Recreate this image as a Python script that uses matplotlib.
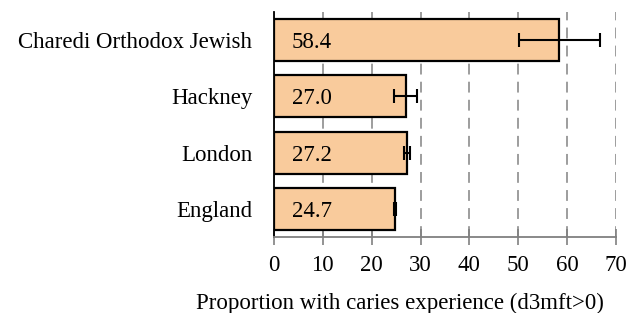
import matplotlib.pyplot as plt
import numpy as np

plt.rcParams['font.family'] = ['Liberation Serif', 'DejaVu Serif']

groups = ['Charedi Orthodox Jewish', 'Hackney', 'London', 'England']
values = [58.4, 27.0, 27.2, 24.7]
ci_low = [50.1, 24.6, 26.6, 24.5]
ci_high = [66.7, 29.3, 27.8, 25.0]

pos = np.arange(len(groups))[::-1]
vals = np.array(values)
err = [vals - np.array(ci_low), np.array(ci_high) - vals]

fig = plt.figure(figsize=(6.38, 3.13), dpi=100)
ax = fig.add_axes([274 / 638, 1 - 237 / 313, 342 / 638, 225 / 313])

ax.barh(pos, vals, height=0.75, color='#F9CB9C', edgecolor='black', linewidth=1.6, zorder=2)
ax.errorbar(vals, pos, xerr=err, fmt='none', ecolor='black', elinewidth=1.5,
            capsize=4.7, capthick=1.5, zorder=3)
for p, v in zip(pos, vals):
    ax.text(3.6, p, f'{v:.1f}', va='center_baseline', ha='left', fontsize=16.5, zorder=4)

ax.set_xlim(0, 70)
ax.set_ylim(-0.49, 3.49)
ax.set_xticks(range(0, 71, 10))
ax.set_yticks(pos)
ax.set_yticklabels(groups, fontsize=16.5)
ax.tick_params(axis='y', length=0, pad=15.5)
ax.tick_params(axis='x', direction='inout', length=12, width=1.2, color='#808080',
               labelsize=16.5, pad=7)
ax.xaxis.grid(True, linestyle=(0, (6, 4)), color='#959595', linewidth=1.3, zorder=0)
ax.set_axisbelow(True)
for s in ['top', 'right']:
    ax.spines[s].set_visible(False)
ax.spines['bottom'].set_color('#808080')
ax.spines['bottom'].set_linewidth(1.3)
ax.spines['left'].set_color('black')
ax.spines['left'].set_linewidth(1.3)
ax.set_xlabel('Proportion with caries experience (d3mft>0)', fontsize=16.5,
              labelpad=12, x=0.368)

fig.savefig('out.png', dpi=100)
